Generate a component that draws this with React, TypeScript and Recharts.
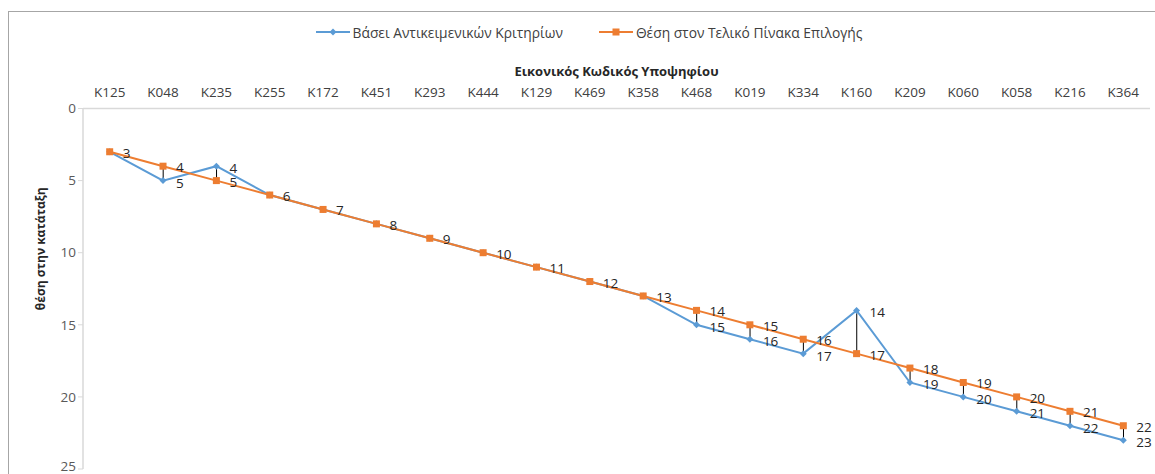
import { Bar, ComposedChart, Label, Legend, Line, XAxis, YAxis } from "recharts";

const candidates = [
  "K125", "K048", "K235", "K255", "K172", "K451", "K293", "K444", "K129", "K469",
  "K358", "K468", "K019", "K334", "K160", "K209", "K060", "K058", "K216", "K364",
];
const byCriteria = [3, 5, 4, 6, 7, 8, 9, 10, 11, 12, 13, 15, 16, 17, 14, 19, 20, 21, 22, 23];
const finalTable = [3, 4, 5, 6, 7, 8, 9, 10, 11, 12, 13, 14, 15, 16, 17, 18, 19, 20, 21, 22];
const yTicks = [0, 5, 10, 15, 20, 25];

const BLUE = "#5B9BD5";
const ORANGE = "#ED7D31";
const FONT = "'Open Sans', sans-serif";

// the chart runs to the right edge of the window, so drop the default body margin
document.body.style.margin = "0";

const rows = candidates.map((code, i) => ({
  code,
  criteria: byCriteria[i],
  final: finalTable[i],
  gap: [finalTable[i], byCriteria[i]],
}));

function DropLine(props: any) {
  const { x, y, width, height } = props;
  if (!height) return null;
  const cx = x + width / 2;
  return <line x1={cx} x2={cx} y1={y} y2={y + height} stroke="#000" strokeWidth={1} />;
}

function Diamond(props: any) {
  const { cx, cy } = props;
  return <path d={`M${cx} ${cy - 3.5}L${cx + 3.5} ${cy}L${cx} ${cy + 3.5}L${cx - 3.5} ${cy}Z`} fill={BLUE} />;
}

function Square(props: any) {
  const { cx, cy } = props;
  return <rect x={cx - 3.5} y={cy - 3.5} width={7} height={7} fill={ORANGE} />;
}

// blue labels are skipped where both series agree (Excel draws them on top of each other)
function ValueLabel(dy: number, skipEqual: boolean) {
  return (props: any) => {
    const { x, y, value, index } = props;
    if (skipEqual && byCriteria[index] === finalTable[index]) return null;
    return (
      <text x={x + 13} y={y + dy} fontSize={13.5} fill="#262626" fontFamily={FONT} dominantBaseline="central">
        {value}
      </text>
    );
  };
}

function LegendBox() {
  const item = (color: string, marker: "d" | "s", text: string) => (
    <span style={{ display: "inline-flex", alignItems: "center", margin: "0 18px" }}>
      <svg width={34} height={10} style={{ marginRight: 3 }}>
        <line x1={0} x2={34} y1={5} y2={5} stroke={color} strokeWidth={2} />
        {marker === "d" ? (
          <path d="M17 1.5L20.5 5L17 8.5L13.5 5Z" fill={color} />
        ) : (
          <rect x={13.5} y={1.5} width={7} height={7} fill={color} />
        )}
      </svg>
      {text}
    </span>
  );
  return (
    <div style={{ textAlign: "center", fontFamily: FONT, fontSize: 13.8, color: "#404040", marginLeft: -20 }}>
      {item(BLUE, "d", "Βάσει Αντικειμενικών Κριτηρίων")}
      {item(ORANGE, "s", "Θέση στον Τελικό Πίνακα Επιλογής")}
    </div>
  );
}

function YTitle(props: any) {
  const { viewBox } = props;
  const cy = viewBox.y + viewBox.height / 2 - 40;
  return (
    <text
      x={32}
      y={cy}
      transform={`rotate(-90 32 ${cy})`}
      textAnchor="middle"
      dominantBaseline="central"
      fontSize={12}
      fontWeight={700}
      fill="#262626"
      fontFamily={FONT}
    >
      θέση στην κατάταξη
    </text>
  );
}

export default function App() {
  return (
    <div style={{ position: "relative", width: 1155, height: 474, overflow: "hidden", fontFamily: FONT }}>
      <div
        style={{
          position: "absolute",
          top: 11,
          left: 8,
          right: 0,
          bottom: 0,
          borderTop: "1px solid #a6a6a6",
          borderLeft: "1px solid #a6a6a6",
        }}
      />
      <div style={{ position: "absolute", top: 8, left: 8 }}>
        <ComposedChart
          width={1147}
          height={466}
          data={rows}
          margin={{ top: 34, right: 5, bottom: 5, left: 40 }}
          style={{ display: "block", overflow: "visible" }}
        >
          <Legend verticalAlign="top" content={<LegendBox />} wrapperStyle={{ top: 14 }} />
          <XAxis
            dataKey="code"
            orientation="top"
            height={47}
            axisLine={{ stroke: "#d9d9d9", strokeWidth: 1.5 }}
            tickLine={false}
            tick={{ fontSize: 13.5, fill: "#404040", fontFamily: FONT }}
            tickMargin={6}
            interval={0}
          >
            <Label
              value="Εικονικός Κωδικός Υποψηφίου"
              position="insideTop"
              offset={5}
              style={{ fontSize: 13, fontWeight: 700, fill: "#262626", fontFamily: FONT }}
            />
          </XAxis>
          <YAxis
            reversed
            domain={[0, 25]}
            ticks={yTicks}
            width={35}
            axisLine={{ stroke: "#d9d9d9", strokeWidth: 1.5 }}
            tickLine={{ stroke: "#d9d9d9" }}
            tickSize={5}
            tick={{ fontSize: 13.5, fill: "#595959", fontFamily: FONT }}
          >
            <Label content={<YTitle />} />
          </YAxis>
          <Bar dataKey="gap" shape={<DropLine />} isAnimationActive={false} legendType="none" />
          <Line
            dataKey="criteria"
            stroke={BLUE}
            strokeWidth={2}
            dot={<Diamond />}
            label={ValueLabel(2, true)}
            isAnimationActive={false}
          />
          <Line
            dataKey="final"
            stroke={ORANGE}
            strokeWidth={2}
            dot={<Square />}
            label={ValueLabel(1, false)}
            isAnimationActive={false}
          />
        </ComposedChart>
      </div>
    </div>
  );
}
